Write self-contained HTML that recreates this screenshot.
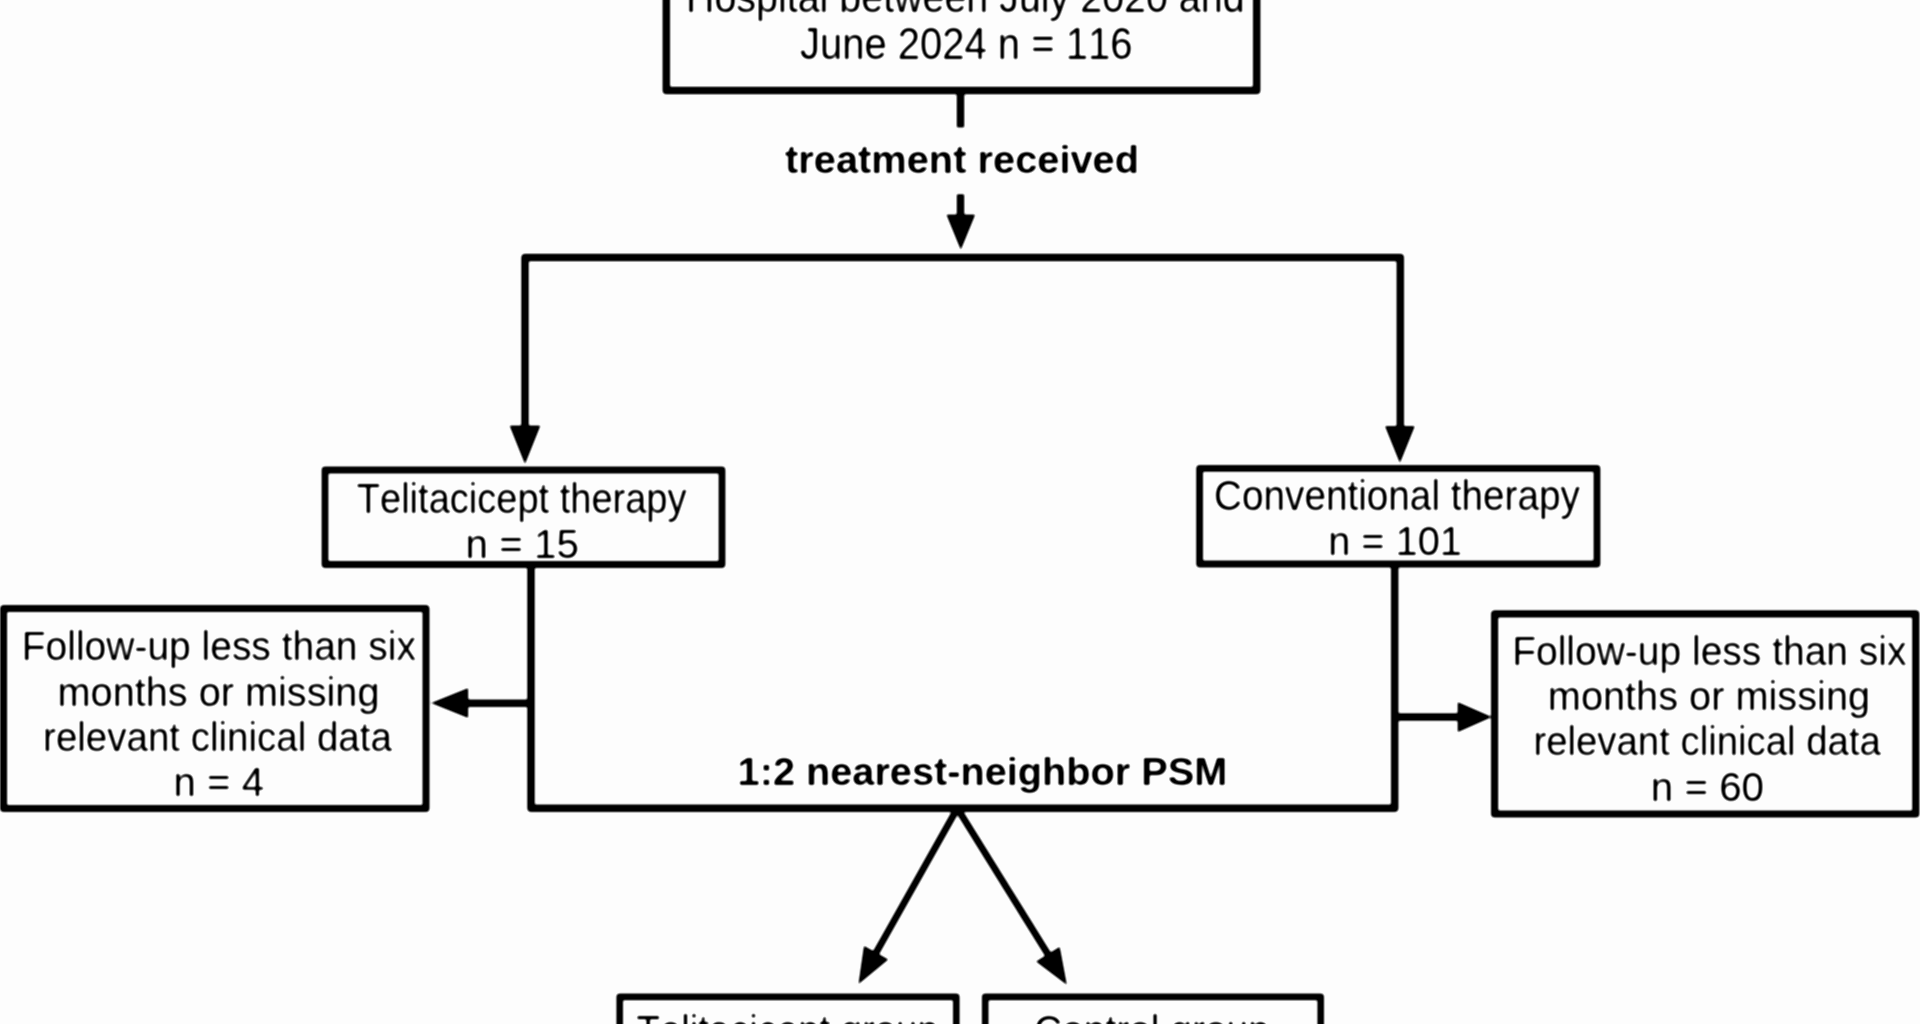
<!DOCTYPE html>
<html lang="en">
<head>
<meta charset="utf-8">
<title>Study flowchart</title>
<style>
html,body{margin:0;padding:0;background:#fdfdfd;overflow:hidden}
body{width:1920px;height:1024px}
svg{display:block;position:absolute;left:0;top:0}
.ln{fill:none;stroke:#000;stroke-width:7.5;stroke-linejoin:round;stroke-linecap:butt}
.hd{fill:#000;stroke:none}
text{font-family:"Liberation Sans",sans-serif;fill:#000;font-weight:400;font-kerning:none}
text.b{font-weight:700}
</style>
</head>
<body>
<svg width="1920" height="1024" viewBox="0 0 1920 1024">
<rect x="0" y="0" width="1920" height="1024" fill="#fdfdfd"/>
<defs>
<filter id="soft" filterUnits="userSpaceOnUse" x="-10" y="-10" width="1940" height="1044" color-interpolation-filters="sRGB">
<feGaussianBlur stdDeviation="1"/>
<feComponentTransfer><feFuncA type="linear" slope="1.4" intercept="-0.200"/></feComponentTransfer>
</filter>
<filter id="softT" filterUnits="userSpaceOnUse" x="-10" y="-10" width="1940" height="1044" color-interpolation-filters="sRGB">
<feGaussianBlur stdDeviation="1"/>
<feComponentTransfer><feFuncA type="linear" slope="1.5" intercept="-0.250"/></feComponentTransfer>
</filter>
<filter id="softB" filterUnits="userSpaceOnUse" x="-10" y="-10" width="1940" height="1044" color-interpolation-filters="sRGB">
<feGaussianBlur stdDeviation="1"/>
<feComponentTransfer><feFuncA type="linear" slope="1.5" intercept="-0.280"/></feComponentTransfer>
</filter>
</defs>
<g filter="url(#soft)">
<g class="ln">
<rect x="666.3" y="-60" width="590.40" height="150.40"/>
<rect x="325.0" y="470.0" width="397.00" height="94.50" stroke-width="6.8"/>
<rect x="1199.6" y="468.3" width="397.40" height="95.70" stroke-width="6.8"/>
<rect x="3.6" y="608.5" width="422.40" height="199.90" stroke-width="7.0"/>
<rect x="1494.6" y="613.8" width="421.20" height="200.20" stroke-width="7.2"/>
<rect x="619.7" y="996.9" width="336.60" height="103.10" stroke-width="6.6"/>
<rect x="985.2" y="996.9" width="335.50" height="103.10" stroke-width="6.6"/>
<path d="M960.5 90 V127.5"/>
<path d="M960.5 194.2 V222"/>
<path d="M525 432 V257.4 H1400.3 V432"/>
<path d="M531 564.5 V808.2 H1394.7 V564"/>
<path d="M531 703.2 H462"/>
<path d="M1394.7 716.9 H1464"/>
<path d="M957.3 808.3 L867.82 967.41" stroke-width="6.8"/>
<path d="M957.3 808.3 L1056.80 968.51" stroke-width="6.8"/>
</g>
<g class="hd">
<polygon points="960.80,249.90 946.30,214.50 975.30,214.50"/>
<polygon points="525.00,464.20 509.50,425.60 540.50,425.60"/>
<polygon points="1399.90,463.30 1384.90,426.00 1414.90,426.00"/>
<polygon points="430.90,703.10 468.20,688.10 468.20,718.10"/>
<polygon points="1491.90,717.10 1457.60,732.25 1457.60,701.95"/>
<polygon points="858.36,984.23 863.95,945.73 888.36,959.46"/>
<polygon points="1066.99,984.90 1035.94,961.45 1059.73,946.68"/>
</g>
</g>
<g filter="url(#softT)">
<text id="t0" x="686.00" y="12.00" font-size="43" textLength="558.60" lengthAdjust="spacingAndGlyphs">Hospital between July 2020 and</text>
<text id="t1" x="799.90" y="58.70" font-size="44.5" textLength="332.50" lengthAdjust="spacingAndGlyphs">June 2024 n = 116</text>
<text id="t3" x="356.80" y="513.10" font-size="42.5" textLength="329.70" lengthAdjust="spacingAndGlyphs">Telitacicept therapy</text>
<text id="t4" x="465.60" y="558.10" font-size="40.5" textLength="113.40" lengthAdjust="spacingAndGlyphs">n = 15</text>
<text id="t5" x="1214.10" y="509.80" font-size="42.5" textLength="365.70" lengthAdjust="spacingAndGlyphs">Conventional therapy</text>
<text id="t6" x="1328.20" y="555.10" font-size="40.5" textLength="133.80" lengthAdjust="spacingAndGlyphs">n = 101</text>
<text id="t7" x="21.80" y="660.20" font-size="40.3" textLength="394.20" lengthAdjust="spacingAndGlyphs">Follow-up less than six</text>
<text id="t8" x="57.50" y="705.60" font-size="40.3" textLength="322.00" lengthAdjust="spacingAndGlyphs">months or missing</text>
<text id="t9" x="43.10" y="750.60" font-size="40.3" textLength="348.80" lengthAdjust="spacingAndGlyphs">relevant clinical data</text>
<text id="t10" x="173.60" y="795.60" font-size="40.3" textLength="90.50" lengthAdjust="spacingAndGlyphs">n = 4</text>
<text id="t11" x="1512.20" y="665.40" font-size="40.3" textLength="394.30" lengthAdjust="spacingAndGlyphs">Follow-up less than six</text>
<text id="t12" x="1547.80" y="710.20" font-size="40.3" textLength="322.30" lengthAdjust="spacingAndGlyphs">months or missing</text>
<text id="t13" x="1533.40" y="754.70" font-size="40.3" textLength="347.50" lengthAdjust="spacingAndGlyphs">relevant clinical data</text>
<text id="t14" x="1650.80" y="800.90" font-size="40.3" textLength="113.20" lengthAdjust="spacingAndGlyphs">n = 60</text>
<text id="t16" x="636.50" y="1045.00" font-size="42.5" textLength="302.20" lengthAdjust="spacingAndGlyphs">Telitacicept group</text>
<text id="t17" x="1034.00" y="1045.00" font-size="42.5" textLength="235.90" lengthAdjust="spacingAndGlyphs">Control group</text>
</g>
<g filter="url(#softB)">
<text id="t2" class="b" x="785.00" y="173.10" font-size="39" textLength="354.10" lengthAdjust="spacingAndGlyphs">treatment received</text>
<text id="t15" class="b" x="737.60" y="784.80" font-size="38" textLength="489.70" lengthAdjust="spacingAndGlyphs">1:2 nearest-neighbor PSM</text>
</g>
</svg>
</body>
</html>
